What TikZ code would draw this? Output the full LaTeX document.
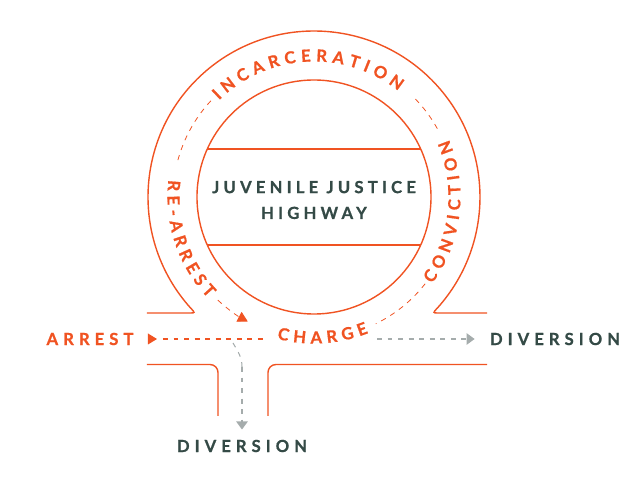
\documentclass[tikz,border=0pt]{standalone}
\usepackage{fontspec}
\usepackage{tikz}
\usetikzlibrary{arrows.meta, positioning, calc, decorations.text}
\newfontfamily\hwfont{Lato}[LetterSpace=30, FakeBold=0.8]
\newfontfamily\hwtitlefont{Lato}[LetterSpace=25, FakeBold=0.8]
\newfontfamily\hwringfont{Lato}[WordSpace=1.25, FakeBold=0.8]
\definecolor{hwOrange}{RGB}{240, 83, 34}
\definecolor{hwSlate}{RGB}{52, 74, 70}
\definecolor{hwGray}{RGB}{165, 172, 172}
\newcommand{\tagfont}{\hwfont\bfseries\fontsize{9.5}{11}\selectfont}
\newcommand{\titlefont}{\hwtitlefont\bfseries\fontsize{9.5}{14.7}\selectfont}
\newcommand{\ringfont}{\hwringfont\bfseries\fontsize{9.5}{11}\selectfont}

\begin{document}
\begin{tikzpicture}[x=0.02cm, y=0.02cm,
    road/.style={color=hwOrange, line width=0.8pt},
    ring/.style={color=hwOrange, line width=0.45pt, dash pattern=on 3pt off 3pt},
    lane/.style={line width=0.6pt, dash pattern=on 2.8pt off 3.2pt},
    tag/.style={font=\tagfont, inner sep=0pt},
    tip/.style={-{Triangle[length=0.16cm, width=0.23cm]}},
    arcText/.style={decorate, decoration={text along path, text align=center, text color=hwOrange, text={|\ringfont|#1}}}]
    \useasboundingbox (-314,-282) rectangle (328,197);
    \coordinate (hub) at (0,0);

    % Highway loop
    \draw[road] (hub) circle[radius=117];
    \draw[road] (24.2:117) -- (155.8:117);
    \draw[road] (-24.2:117) -- (-155.8:117);
    \node[font=\titlefont, inner sep=0pt, text=hwSlate, align=center] (highway) at (0,-3) {JUVENILE JUSTICE\\HIGHWAY};

    % Road edges
    \draw[road] (-167,-116) -- (-124,-116) .. controls (-118.7,-116) .. (221.8:166)
        arc[start angle=221.8, end angle=-41.8, radius=166]
        .. controls (118.7,-116) .. (124,-116) -- (173,-116);
    \draw[road, rounded corners=0.16cm] (-167,-167.5) -- (-96,-167.5) -- (-96,-219);
    \draw[road, rounded corners=0.16cm] (-46,-219) -- (-46,-167.5) -- (173,-167.5);

    % Ring labels
    \path[arcText=I N C A R C E R A T I O N] (140:135.5) arc[start angle=140, end angle=46, radius=135.5];
    \path[arcText=C O N V I C T I O N] (-46.6:146.5) arc[start angle=-46.6, end angle=33.4, radius=146.5];
    \path[arcText=R E - A R R E S T] (158.5:146.5) arc[start angle=158.5, end angle=238.5, radius=146.5];
    \path[arcText=C H A R G E] (-116.4:146.5) arc[start angle=-116.4, end angle=-56.4, radius=146.5];

    % Ring dashes
    \draw[ring] (137:141) arc[start angle=137, end angle=166, radius=141];
    \draw[ring] (29:141) arc[start angle=29, end angle=45, radius=141];
    \draw[ring] (-38:141) arc[start angle=-38, end angle=-64, radius=141];
    \draw[ring, -{Triangle[length=0.2cm, width=0.22cm]}] (227:141) arc[start angle=227, end angle=242, radius=141];

    % Entry and exits
    \node[tag, text=hwOrange] (arrest) at (-224,-142) {ARREST};
    \node[tag, text=hwSlate] (divRight) at (241,-142) {DIVERSION};
    \node[tag, text=hwSlate] (divDown) at (-72,-249) {DIVERSION};
    \coordinate (arrestTip) at (-157,-142);
    \coordinate (arrestOut) at (-151,-142);
    \coordinate (chargeIn) at (-51,-142);
    \coordinate (chargeOut) at (63,-142);
    \coordinate (splitOut) at (-81,-146);
    \coordinate (bend) at (-72,-170);
    \fill[hwOrange] (arrestTip) -- ++(-9,5.5) -- ++(0,-11) -- cycle;
    \draw[lane, color=hwOrange] (arrestOut) -- (chargeIn);
    \draw[lane, color=hwGray, tip, shorten >=0.3cm] (chargeOut) -- (divRight);
    \draw[lane, color=hwGray] (splitOut) to[out=-60, in=90] (bend);
    \draw[lane, color=hwGray, tip, shorten >=0.2cm] (bend) -- (divDown);
\end{tikzpicture}
\end{document}
